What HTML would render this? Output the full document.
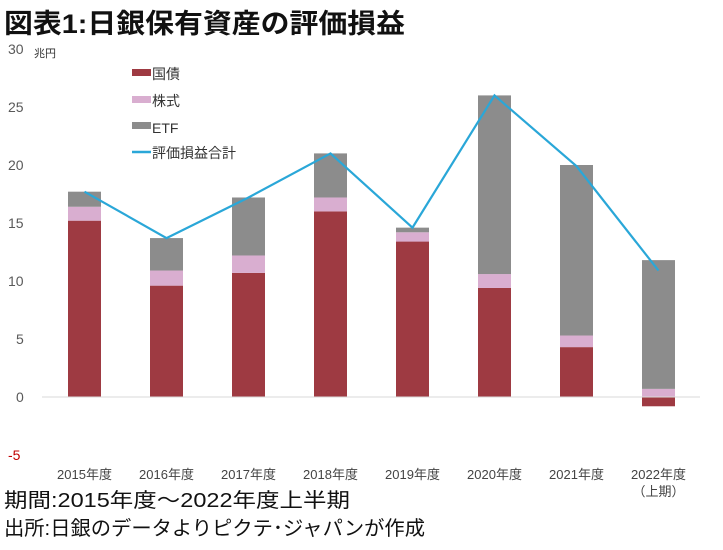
<!DOCTYPE html>
<html><head><meta charset="utf-8"><style>
body{margin:0;background:#fff;}
svg text{font-family:"Liberation Sans","Noto Sans CJK JP",sans-serif;}
</style></head><body>
<svg id="c" width="723" height="545" xmlns="http://www.w3.org/2000/svg">
<text x="4" y="33" font-size="27" font-weight="bold" fill="#111" textLength="401" lengthAdjust="spacingAndGlyphs">図表1:日銀保有資産の評価損益</text>
<text x="34" y="57" font-size="11" fill="#333">兆円</text>
<g>
<rect x="132" y="69" width="19" height="7" fill="#9e3a42"/>
<text x="152" y="79" font-size="14" fill="#333">国債</text>
<rect x="132" y="96" width="19" height="7" fill="#d9aed0"/>
<text x="152" y="106" font-size="14" fill="#333">株式</text>
<rect x="132" y="122" width="19" height="7" fill="#8c8c8c"/>
<text x="152" y="133" font-size="14" fill="#333">ETF</text>
<line x1="132" y1="152" x2="151" y2="152" stroke="#2aa7d8" stroke-width="2.5"/>
<text x="152" y="158" font-size="14" fill="#333">評価損益合計</text>
</g>
<text x="4" y="507" font-size="20" fill="#111" textLength="346" lengthAdjust="spacingAndGlyphs">期間:2015年度～2022年度上半期</text>
<text x="4" y="535" font-size="20" fill="#111" textLength="421" lengthAdjust="spacingAndGlyphs">出所:日銀のデータよりピクテ･ジャパンが作成</text>
</svg>
<script>
const categories=["2015年度","2016年度","2017年度","2018年度","2019年度","2020年度","2021年度","2022年度"];
const jgb=[15.2,9.6,10.7,16.0,13.4,9.4,4.3,-0.8];
const stock=[1.2,1.3,1.5,1.2,0.8,1.2,1.0,0.7];
const etf=[1.3,2.8,5.0,3.8,0.4,15.4,14.7,11.1];
const total=[17.7,13.7,17.2,21.0,14.6,26.0,19.9,10.9];
const yTicks=[30,25,20,15,10,5,0,-5];
const NS="http://www.w3.org/2000/svg";
const svg=document.getElementById('c');
const y=v=>397-v*11.6;
const x=i=>84.5+i*82;
const bw=33;
function mk(t,a,p){const e=document.createElementNS(NS,t);for(const k in a)e.setAttribute(k,a[k]);(p||svg).appendChild(e);return e;}
yTicks.forEach(t=>{
const e=mk('text',{x:t<0?8:(t>=10?8:16),y:y(t)+5,'font-size':14,fill:t<0?'#c00000':'#595959'});
e.textContent=t;


});
categories.forEach((c,i)=>{
const e=mk('text',{x:x(i),y:479,'font-size':13,fill:'#444','text-anchor':'middle'});
e.textContent=c;


let base=0;
if(jgb[i]<0){
const r=mk('rect',{x:x(i)-bw/2,y:y(0),width:bw,height:y(jgb[i])-y(0),fill:'#9e3a42'});


}else{
const r=mk('rect',{x:x(i)-bw/2,y:y(jgb[i]),width:bw,height:y(0)-y(jgb[i]),fill:'#9e3a42'});


base=jgb[i];
}
const s=mk('rect',{x:x(i)-bw/2,y:y(base+stock[i]),width:bw,height:y(base)-y(base+stock[i]),fill:'#d9aed0'});


base+=stock[i];
const f=mk('rect',{x:x(i)-bw/2,y:y(base+etf[i]),width:bw,height:y(base)-y(base+etf[i]),fill:'#8c8c8c'});


});
const ext=mk('text',{x:x(7),y:496,'font-size':13,fill:'#444','text-anchor':'middle'});
ext.textContent='（上期）';


const ax=mk('line',{x1:42,y1:397,x2:700,y2:397,stroke:'#d9d9d9','stroke-width':1});


const pl=mk('polyline',{points:total.map((v,i)=>x(i)+','+y(v)).join(' '),fill:'none',stroke:'#2aa7d8','stroke-width':2.2});


</script>
</body></html>
